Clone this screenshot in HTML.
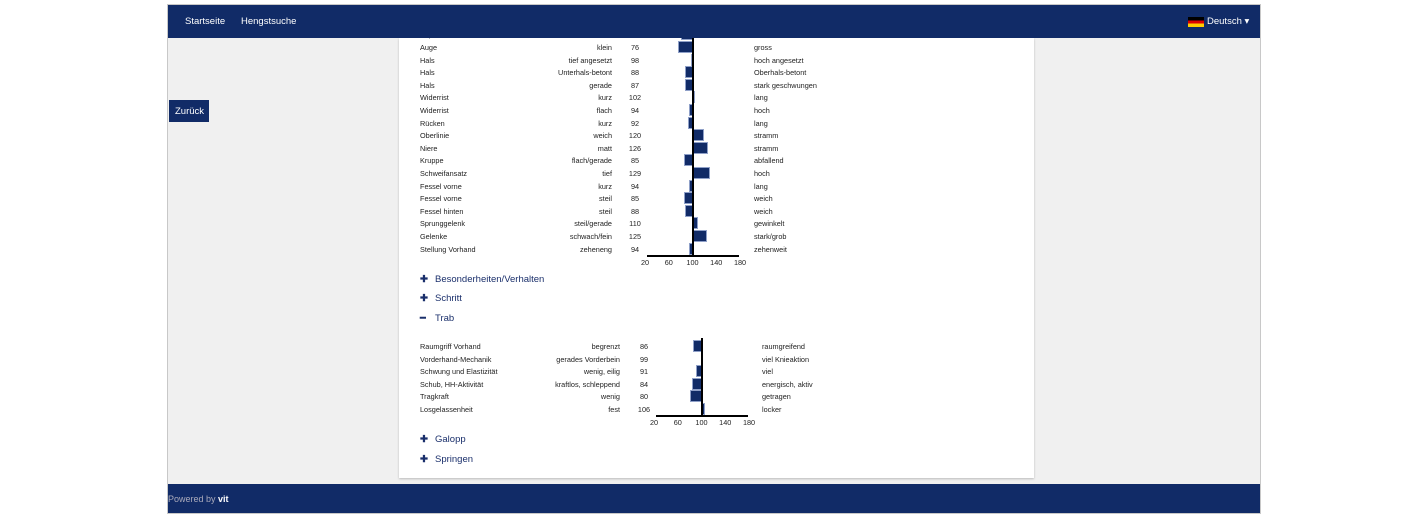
<!DOCTYPE html>
<html><head><meta charset="utf-8"><style>
*{margin:0;padding:0;box-sizing:border-box}
body{width:1422px;height:519px;background:#fff;font-family:"Liberation Sans",sans-serif;position:relative;overflow:hidden}
.frame{position:absolute;left:167px;top:4px;width:1094px;height:510px;border:1px solid #c8c8c8;background:#f0f0f0}
.nav{position:absolute;left:168px;top:5px;width:1092px;height:33px;background:#112b67;z-index:5}
.nav span{position:absolute;top:11px;color:#fff;font-size:9.5px}
.panel{position:absolute;left:399px;top:38px;width:635px;height:440px;background:#fff;box-shadow:0 1px 2px #bbb}
.footer{position:absolute;left:168px;top:484px;width:1092px;height:29px;background:#112b67}
.t{position:absolute;font-size:7.3px;color:#222;white-space:nowrap;line-height:9px}
.r{text-align:right}
.c{text-align:center;width:24px}
.b{position:absolute;background:#112b67;height:12px;border:0.5px solid #8fa0c8}
.sec{position:absolute;left:420px;font-size:9.5px;color:#1a2f6b}
.sec b{display:inline-block;width:15px;font-weight:bold}
</style></head><body>
<div class="frame"></div>
<div style="position:absolute;left:169px;top:100px;width:40px;height:22px;background:#112b67;color:#fff;font-size:9.5px;padding:6px 0 0 6px">Zurück</div>
<div class="panel"></div>
<div class="footer"><span style="position:absolute;left:0;top:10px;color:#aab;font-size:9px">Powered by <b style="color:#fff">vit</b></span></div>
<div id="c"></div>
<div class="sec" style="top:274px"><b>✚</b>Besonderheiten/Verhalten</div>
<div class="sec" style="top:293px"><b>✚</b>Schritt</div>
<div class="sec" style="top:313px"><b>━</b>Trab</div>
<div class="sec" style="top:434px"><b>✚</b>Galopp</div>
<div class="sec" style="top:454px"><b>✚</b>Springen</div>
<script>
function chart(rows,y0,lowR,valX,axX,rightX,axisY){
 let h='';const s=0.594;
 rows.forEach((r,i)=>{const y=y0+i*12.6;
  h+=`<div class="t" style="left:420px;top:${y-4}px">${r[0]}</div>`;
  h+=`<div class="t r" style="left:${lowR-150}px;width:150px;top:${y-4}px">${r[1]}</div>`;
  h+=`<div class="t c" style="left:${valX-12}px;top:${y-4}px">${r[2]}</div>`;
  h+=`<div class="t" style="left:${rightX}px;top:${y-4}px">${r[3]}</div>`;
  const cx=axX+80*s, vx=axX+(r[2]-20)*s;
  h+=`<div class="b" style="left:${Math.min(cx,vx)}px;width:${Math.max(1.5,Math.abs(vx-cx))}px;top:${y-6}px"></div>`;
 });
 const cx=axX+80*s;
 h+=`<div style="position:absolute;left:${cx-0.5}px;top:${y0-8}px;width:1.5px;height:${axisY-y0+8}px;background:#000"></div>`;
 h+=`<div style="position:absolute;left:${axX+2}px;top:${axisY}px;width:${160*s-3}px;height:1.5px;background:#000"></div>`;
 [20,60,100,140,180].forEach(v=>{h+=`<div class="t c" style="left:${axX+(v-20)*s-12}px;top:${axisY+3}px">${v}</div>`});
 return h;
}
const r1=[["Kopf","","80",""],["Auge","klein",76,"gross"],["Hals","tief angesetzt",98,"hoch angesetzt"],["Hals","Unterhals-betont",88,"Oberhals-betont"],["Hals","gerade",87,"stark geschwungen"],["Widerrist","kurz",102,"lang"],["Widerrist","flach",94,"hoch"],["Rücken","kurz",92,"lang"],["Oberlinie","weich",120,"stramm"],["Niere","matt",126,"stramm"],["Kruppe","flach/gerade",85,"abfallend"],["Schweifansatz","tief",129,"hoch"],["Fessel vorne","kurz",94,"lang"],["Fessel vorne","steil",85,"weich"],["Fessel hinten","steil",88,"weich"],["Sprunggelenk","steil/gerade",110,"gewinkelt"],["Gelenke","schwach/fein",125,"stark/grob"],["Stellung Vorhand","zeheneng",94,"zehenweit"]];
const r2=[["Raumgriff Vorhand","begrenzt",86,"raumgreifend"],["Vorderhand-Mechanik","gerades Vorderbein",99,"viel Knieaktion"],["Schwung und Elastizität","wenig, eilig",91,"viel"],["Schub, HH-Aktivität","kraftlos, schleppend",84,"energisch, aktiv"],["Tragkraft","wenig",80,"getragen"],["Losgelassenheit","fest",106,"locker"]];
document.getElementById('c').innerHTML=chart(r1,34.4,612,635,645,754,255)+chart(r2,346,620,644,654,762,415);
</script>
<div class="nav"><span style="left:17px">Startseite</span><span style="left:73px">Hengstsuche</span>
<span style="left:1020px;top:12px;width:16px;height:10px;background:linear-gradient(#000 0 33%,#d00 33% 66%,#fc0 66%)"></span>
<span style="left:1039px">Deutsch ▾</span></div>
</body></html>
